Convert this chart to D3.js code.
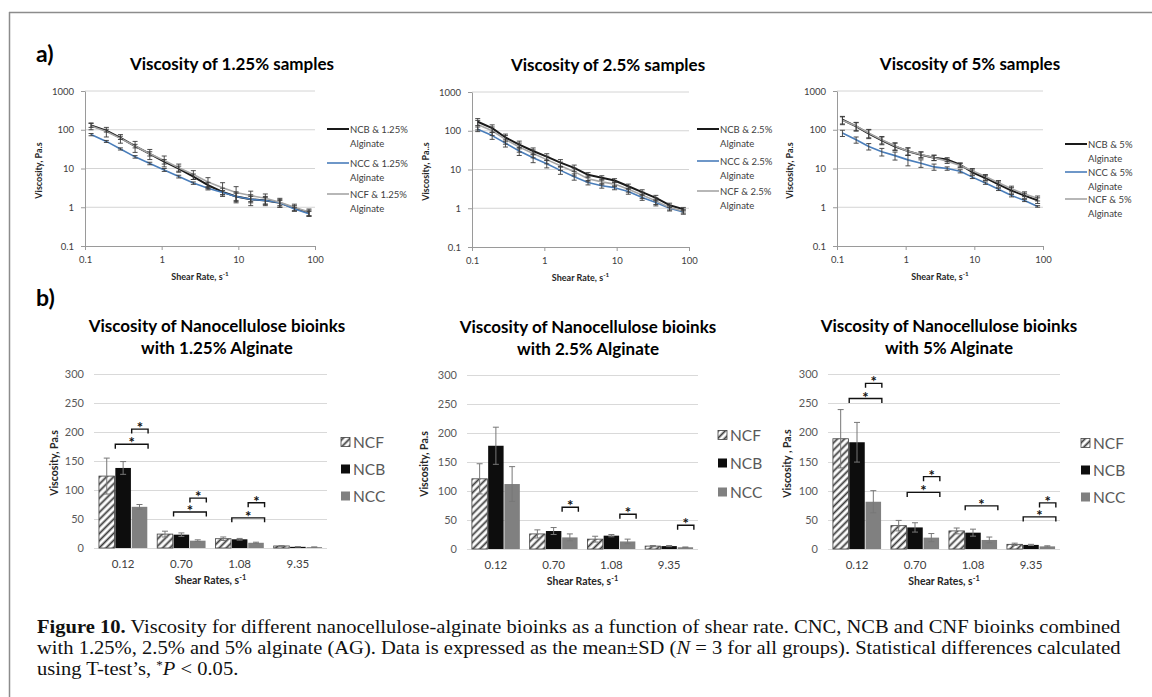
<!DOCTYPE html>
<html>
<head>
<meta charset="utf-8">
<script src="https://cdn.jsdelivr.net/npm/d3@7"></script>
<style>
body { margin: 0; background: #fff; }
svg { display: block; }
text { font-family: Lato, "Open Sans", sans-serif; }
.ttl { font-weight: 700; fill: #000; }
.axlab { font-weight: 700; fill: #262626; }
.cap { font-family: "Liberation Serif", "DejaVu Serif", serif; font-size: 19px; fill: #111; }
</style>
</head>
<body>
<svg id="fig" width="1152" height="697"></svg>
<script>
// ---- data: line charts (a) ----
const shearRates = [0.12, 0.19, 0.29, 0.45, 0.70, 1.08, 1.67, 2.59, 4.02, 6.23, 9.35, 14.5, 22.5, 34.8, 53.9, 83.5]

const ncb125 = [130, 95, 62, 38, 24, 15, 10, 6.2, 3.7, 2.5, 1.9, 1.6, 1.5, 1.3, 0.95, 0.72]
const ncc125 = [75, 50, 32, 20, 13.5, 9.2, 6.2, 4.2, 3.1, 2.4, 1.9, 1.6, 1.5, 1.3, 0.9, 0.68]
const ncf125 = [125, 90, 60, 38, 24, 16, 10.5, 7, 4.5, 3.2, 2.4, 2.0, 1.7, 1.35, 1.0, 0.75]
const ncb125Err = [15, 8, 6, 4, 3, 2, 1.5, 1, 0.7, 0.6, 0.6, 0.5, 0.4, 0.3, 0.15, 0.12]
const ncc125Err = [5, 3, 2, 1.5, 1, 0.8, 0.5, 0.3, 0.3, 0.3, 0.4, 0.3, 0.3, 0.2, 0.1, 0.1]
const ncf125Err = [25, 25, 15, 12, 7, 5, 2.5, 1.8, 1.3, 1.1, 1.0, 0.6, 0.5, 0.35, 0.2, 0.15]

const ncb25 = [171, 117, 67, 44, 30, 21.5, 15, 11, 7.3, 6.1, 5.2, 3.7, 2.6, 1.85, 1.2, 0.95]
const ncc25 = [110, 75, 48, 30, 20, 14, 9.5, 6.5, 4.6, 3.8, 3.4, 2.7, 1.9, 1.4, 1.0, 0.8]
const ncf25 = [145, 100, 60, 38, 26, 18, 12.5, 8.8, 5.8, 4.8, 4.2, 3.1, 2.2, 1.55, 1.05, 0.85]
const ncb25Err = [35, 25, 15, 10, 6, 4, 3, 2, 1, 0.8, 0.6, 0.5, 0.4, 0.3, 0.15, 0.1]
const ncc25Err = [15, 15, 10, 7, 5, 3, 2, 1.2, 0.6, 0.5, 0.4, 0.4, 0.3, 0.25, 0.15, 0.1]
const ncf25Err = [40, 25, 15, 10, 6, 4, 3, 2, 1, 0.8, 0.6, 0.5, 0.4, 0.3, 0.15, 0.1]

const ncb5 = [181, 122, 79, 53, 37, 28, 22.5, 19, 17, 12.5, 8, 5.7, 3.9, 2.7, 2.0, 1.5]
const ncc5 = [82, 55, 37, 27, 21.5, 16.7, 13.7, 11, 10, 8.5, 6, 4.2, 2.9, 2.0, 1.5, 1.05]
const ncf5 = [175, 125, 82, 55, 38, 28, 23, 19, 15.5, 12, 8.8, 6.2, 4.3, 3.0, 2.2, 1.7]
const ncb5Err = [40, 30, 20, 12, 8, 6, 4, 3, 2, 1.5, 1.2, 0.8, 0.6, 0.5, 0.3, 0.25]
const ncc5Err = [15, 10, 7, 6, 5, 5, 3, 2, 1, 0.8, 0.5, 0.3, 0.2, 0.15, 0.1, 0.05]
const ncf5Err = [40, 30, 20, 12, 8, 6, 4, 3, 2, 1.5, 1.2, 0.8, 0.6, 0.5, 0.3, 0.25]

const yTicksLog = [0.1, 1, 10, 100, 1000]
const xTicksLog = [0.1, 1, 10, 100]

// ---- data: bar charts (b) ----
const barRates = ['0.12', '0.70', '1.08', '9.35']
const barGroups = ['NCF', 'NCB', 'NCC']
const barTicks = [0, 50, 100, 150, 200, 250, 300]

const ncfBar125 = [124, 24, 16, 3.5]
const ncbBar125 = [138, 23, 15, 2]
const nccBar125 = [71, 12.6, 9, 1.5]
const ncfBar125Err = [31, 5, 3, 0.5]
const ncbBar125Err = [11, 3, 1.5, 0.3]
const nccBar125Err = [4, 1.5, 1, 0.3]

const ncfBar25 = [121, 26, 17, 5]
const ncbBar25 = [178, 31, 23, 5]
const nccBar25 = [112, 20, 13, 3]
const ncfBar25Err = [26, 7, 5, 1]
const ncbBar25Err = [32, 6, 2, 1]
const nccBar25Err = [30, 6, 4, 0.5]

const ncfBar5 = [189, 40, 31, 8]
const ncbBar5 = [183, 37, 28, 7]
const nccBar5 = [81, 19.5, 15.5, 4.5]
const ncfBar5Err = [50, 9, 5, 2]
const ncbBar5Err = [34, 8, 6, 1]
const nccBar5Err = [19, 7, 5, 1]

const sig125 = [
	{ rate: '0.12', from: 'NCF', to: 'NCC', v: 179 },
	{ rate: '0.12', from: 'NCB', to: 'NCC', v: 205 },
	{ rate: '0.70', from: 'NCF', to: 'NCC', v: 62 },
	{ rate: '0.70', from: 'NCB', to: 'NCC', v: 86 },
	{ rate: '1.08', from: 'NCF', to: 'NCC', v: 52 },
	{ rate: '1.08', from: 'NCB', to: 'NCC', v: 78 },
]
const sig25 = [
	{ rate: '0.70', from: 'NCB', to: 'NCC', v: 72 },
	{ rate: '1.08', from: 'NCB', to: 'NCC', v: 60 },
	{ rate: '9.35', from: 'NCB', to: 'NCC', v: 41 },
]
const sig5 = [
	{ rate: '0.12', from: 'NCF', to: 'NCC', v: 258 },
	{ rate: '0.12', from: 'NCB', to: 'NCC', v: 284 },
	{ rate: '0.70', from: 'NCF', to: 'NCC', v: 97 },
	{ rate: '0.70', from: 'NCB', to: 'NCC', v: 124 },
	{ rate: '1.08', from: 'NCF', to: 'NCC', v: 74 },
	{ rate: '9.35', from: 'NCF', to: 'NCC', v: 55 },
	{ rate: '9.35', from: 'NCB', to: 'NCC', v: 79 },
]

const lineColor = { NCB: '#1a1a1a', NCC: '#4a7ebb', NCF: '#a6a6a6' }
const lineWidth = { NCB: 2, NCC: 1.6, NCF: 1.6 }
const barFill = { NCF: 'url(#hatch)', NCB: '#0d0d0d', NCC: '#808080' }

const svg = d3.select('#fig')

// hatch pattern for NCF bars
const defs = svg.append('defs')
const pat = defs.append('pattern')
	.attr('id', 'hatch')
	.attr('patternUnits', 'userSpaceOnUse')
	.attr('width', 5).attr('height', 5)
	.attr('patternTransform', 'rotate(45)')
pat.append('rect').attr('width', 5).attr('height', 5).attr('fill', '#fff')
pat.append('line').attr('x1', 2.5).attr('x2', 2.5).attr('y1', 0).attr('y2', 5)
	.attr('stroke', '#3a3a3a').attr('stroke-width', 1.8)

// frame
svg.append('line').attr('x1', 9).attr('x2', 1152).attr('y1', 12.5).attr('y2', 12.5).attr('stroke', '#8c8c8c').attr('stroke-width', 1.5)
svg.append('line').attr('x1', 9.5).attr('x2', 9.5).attr('y1', 12).attr('y2', 697).attr('stroke', '#8c8c8c').attr('stroke-width', 1.5)

svg.append('text').attr('x', 36).attr('y', 62).attr('class', 'ttl').style('font-size', '23px').text('a)')
svg.append('text').attr('x', 36).attr('y', 306).attr('class', 'ttl').style('font-size', '23px').text('b)')

function styleAxis(sel, fs) {
	sel.select('.domain').attr('stroke', '#9a9a9a')
	sel.selectAll('.tick line').attr('stroke', '#9a9a9a')
	sel.selectAll('.tick text').attr('fill', '#404040').style('font-size', fs).style('font-family', 'Lato, sans-serif')
}

function axisLabel(g, x, y, txt, sup, fs, rotate) {
	const t = g.append('text')
		.attr('class', 'axlab')
		.attr('text-anchor', 'middle')
		.style('font-size', fs)
		.attr('transform', rotate ? `translate(${x},${y}) rotate(-90)` : `translate(${x},${y})`)
	t.append('tspan').text(txt)
	if (sup) t.append('tspan').attr('dy', -4).style('font-size', '70%').text(sup)
}

function linePanel(p) {
	const g = svg.append('g')
	const x = d3.scaleLog().domain([0.1, 100]).range([p.x0, p.x1])
	const y = d3.scaleLog().domain([0.1, 1000]).range([p.y1, p.y0])

	g.append('text').attr('class', 'ttl').attr('x', p.tx).attr('y', p.y0 - 21)
		.attr('text-anchor', 'middle').style('font-size', '17px').text(p.title)

	g.selectAll('.grid').data(yTicksLog.slice(1)).join('line')
		.attr('x1', p.x0).attr('x2', p.x1)
		.attr('y1', d => y(d)).attr('y2', d => y(d))
		.attr('stroke', '#d4d4d4')

	const ya = g.append('g').attr('transform', `translate(${p.x0},0)`)
		.call(d3.axisLeft(y).tickValues(yTicksLog).tickFormat(d3.format('')).tickSize(4).tickPadding(7).tickSizeOuter(0))
	styleAxis(ya, '9.5px')
	const xa = g.append('g').attr('transform', `translate(0,${p.y1})`)
		.call(d3.axisBottom(x).tickValues(xTicksLog).tickFormat(d3.format('')).tickSize(4).tickPadding(6).tickSizeOuter(0))
	styleAxis(xa, '9.5px')

	axisLabel(g, p.ylx, (p.y0 + p.y1) / 2 + 2, p.ylab, null, '9px', true)
	axisLabel(g, (p.x0 + p.x1) / 2, p.y1 + 34, 'Shear Rate, s', '-1', '9px', false)

	const line = d3.line().x((d, i) => x(shearRates[i])).y(d => y(d))

	p.series.forEach(s => {
		g.append('path').datum(s.vals)
			.attr('fill', 'none')
			.attr('stroke', lineColor[s.name])
			.attr('stroke-width', lineWidth[s.name])
			.attr('stroke-linejoin', 'round')
			.attr('d', line)
	})
	p.series.forEach(s => {
		const eb = g.append('g').attr('stroke', '#3a3a3a').attr('stroke-width', 0.9)
		s.vals.forEach((v, i) => {
			const cx = x(shearRates[i])
			const yt = y(v + s.err[i])
			const yb = y(Math.max(v - s.err[i], 0.11))
			eb.append('line').attr('x1', cx).attr('x2', cx).attr('y1', yt).attr('y2', yb)
			eb.append('line').attr('x1', cx - 2.5).attr('x2', cx + 2.5).attr('y1', yt).attr('y2', yt)
			eb.append('line').attr('x1', cx - 2.5).attr('x2', cx + 2.5).attr('y1', yb).attr('y2', yb)
		})
	})

	// legend
	p.series.forEach((s, i) => {
		const ly = p.ly[i]
		g.append('line').attr('x1', p.lx).attr('x2', p.lx + 22).attr('y1', ly).attr('y2', ly)
			.attr('stroke', lineColor[s.name]).attr('stroke-width', lineWidth[s.name])
		const t = g.append('text').attr('x', p.lx + 23).attr('y', ly + 3.5)
			.style('font-size', '9.5px').attr('fill', '#404040')
		t.append('tspan').text(`${s.name} & ${p.pct}`)
		t.append('tspan').attr('x', p.lx + 23).attr('dy', 14.5).text('Alginate')
	})
}

function barPanel(p) {
	const g = svg.append('g')
	const x = d3.scaleBand().domain(barRates).range([p.x0, p.x1]).paddingInner(0.17).paddingOuter(0.085)
	const xs = d3.scaleBand().domain(barGroups).range([0, x.bandwidth()]).paddingInner(0.05)
	const y = d3.scaleLinear().domain([0, 300]).range([p.y1, p.y0])

	const tt = g.append('text').attr('class', 'ttl').attr('text-anchor', 'middle').style('font-size', '17px')
	tt.append('tspan').attr('x', p.tx).attr('y', p.y0 - 42).text('Viscosity of Nanocellulose bioinks')
	tt.append('tspan').attr('x', p.tx).attr('y', p.y0 - 20).text(p.title2)

	g.selectAll('.grid').data(barTicks).join('line')
		.attr('x1', p.x0).attr('x2', p.x1)
		.attr('y1', d => Math.round(y(d)) + 0.5).attr('y2', d => Math.round(y(d)) + 0.5)
		.attr('stroke', '#d9d9d9')

	g.selectAll('.ytick').data(barTicks).join('text')
		.attr('x', p.x0 - 10).attr('y', d => y(d) + 4)
		.attr('text-anchor', 'end').attr('fill', '#595959').style('font-size', '11px')
		.text(d => d)

	g.selectAll('.xtick').data(barRates).join('text')
		.attr('x', d => x(d) + x.bandwidth() / 2).attr('y', p.y1 + 20)
		.attr('text-anchor', 'middle').attr('fill', '#404040').style('font-size', '11.5px')
		.text(d => d)

	axisLabel(g, p.ylx, (p.y0 + p.y1) / 2 + 2, p.ylab, null, '10.5px', true)
	axisLabel(g, (p.x0 + p.x1) / 2, p.y1 + 36, 'Shear Rates, s', '-1', '10.5px', false)

	barGroups.forEach((k, gi) => {
		const vals = p.vals[gi]
		const errs = p.errs[gi]
		g.selectAll(null).data(barRates).join('rect')
			.attr('x', d => x(d) + xs(k))
			.attr('y', (d, i) => y(vals[i]))
			.attr('width', xs.bandwidth())
			.attr('height', (d, i) => y(0) - y(vals[i]))
			.attr('fill', barFill[k])
			.attr('stroke', k === 'NCF' ? '#404040' : 'none')
			.attr('stroke-width', 0.8)
		const eb = g.append('g').attr('stroke', '#777').attr('stroke-width', 1)
		barRates.forEach((r, i) => {
			const cx = x(r) + xs(k) + xs.bandwidth() / 2
			const yt = y(vals[i] + errs[i])
			const yb = y(Math.max(vals[i] - errs[i], 0))
			eb.append('line').attr('x1', cx).attr('x2', cx).attr('y1', yt).attr('y2', yb)
			eb.append('line').attr('x1', cx - 3).attr('x2', cx + 3).attr('y1', yt).attr('y2', yt)
			eb.append('line').attr('x1', cx - 3).attr('x2', cx + 3).attr('y1', yb).attr('y2', yb)
		})
	})

	// significance brackets
	const shift = xs.bandwidth() * 0.55
	p.sig.forEach(s => {
		const xa = x(s.rate) + xs(s.from) + xs.bandwidth() / 2 + shift
		const xb = x(s.rate) + xs(s.to) + xs.bandwidth() / 2 + shift
		const yy = y(s.v)
		g.append('path')
			.attr('d', `M${xa},${yy + 4.5}V${yy}H${xb}V${yy + 4.5}`)
			.attr('fill', 'none').attr('stroke', '#111').attr('stroke-width', 1.4)
		g.append('text').attr('x', (xa + xb) / 2).attr('y', yy + 4)
			.attr('text-anchor', 'middle').style('font-size', '15px').style('font-weight', 700)
			.attr('fill', '#111').text('*')
	})

	// legend
	barGroups.forEach((k, i) => {
		const ly = p.ly[i]
		g.append('rect').attr('x', p.lx).attr('y', ly - 4.5).attr('width', 9).attr('height', 9)
			.attr('fill', barFill[k]).attr('stroke', k === 'NCF' ? '#404040' : 'none').attr('stroke-width', 0.8)
		g.append('text').attr('x', p.lx + 12).attr('y', ly + 5.5)
			.attr('fill', '#595959').style('font-size', '15.5px').text(k)
	})
}

linePanel({
	x0: 85, x1: 315, y0: 91, y1: 246, tx: 232, ylx: 42, lx: 327, ly: [129, 163, 194],
	title: 'Viscosity of 1.25% samples', ylab: 'Viscosity, Pa.s', pct: '1.25%',
	series: [
		{ name: 'NCB', vals: ncb125, err: ncb125Err },
		{ name: 'NCC', vals: ncc125, err: ncc125Err },
		{ name: 'NCF', vals: ncf125, err: ncf125Err },
	],
})
linePanel({
	x0: 472, x1: 689, y0: 92, y1: 247, tx: 608, ylx: 429, lx: 697, ly: [129, 161, 191],
	title: 'Viscosity of 2.5% samples', ylab: 'Viscosity, Pa..s', pct: '2.5%',
	series: [
		{ name: 'NCB', vals: ncb25, err: ncb25Err },
		{ name: 'NCC', vals: ncc25, err: ncc25Err },
		{ name: 'NCF', vals: ncf25, err: ncf25Err },
	],
})
linePanel({
	x0: 837, x1: 1043, y0: 91, y1: 246, tx: 970, ylx: 793, lx: 1065, ly: [144, 172, 199],
	title: 'Viscosity of 5% samples', ylab: 'Viscosity, Pa.s', pct: '5%',
	series: [
		{ name: 'NCB', vals: ncb5, err: ncb5Err },
		{ name: 'NCC', vals: ncc5, err: ncc5Err },
		{ name: 'NCF', vals: ncf5, err: ncf5Err },
	],
})

barPanel({
	x0: 94, x1: 327, y0: 374, y1: 548, tx: 217, ylx: 58, lx: 341, ly: [442, 469, 496],
	title2: 'with 1.25% Alginate', ylab: 'Viscosity, Pa.s', sig: sig125,
	vals: [ncfBar125, ncbBar125, nccBar125], errs: [ncfBar125Err, ncbBar125Err, nccBar125Err],
})
barPanel({
	x0: 467, x1: 698, y0: 375, y1: 549, tx: 588, ylx: 428, lx: 718, ly: [435, 463, 492],
	title2: 'with 2.5% Alginate', ylab: 'Viscosity, Pa.s', sig: sig25,
	vals: [ncfBar25, ncbBar25, nccBar25], errs: [ncfBar25Err, ncbBar25Err, nccBar25Err],
})
barPanel({
	x0: 828, x1: 1060, y0: 374, y1: 549, tx: 949, ylx: 791, lx: 1081, ly: [443, 470, 497],
	title2: 'with 5% Alginate', ylab: 'Viscosity , Pa.s', sig: sig5,
	vals: [ncfBar5, ncbBar5, nccBar5], errs: [ncfBar5Err, ncbBar5Err, nccBar5Err],
})

// caption
const cap = svg.append('g')
const l1 = cap.append('text').attr('class', 'cap').attr('x', 0).attr('y', 0)
l1.append('tspan').style('font-weight', 700).text('Figure 10.')
l1.append('tspan').text(' Viscosity for different nanocellulose-alginate bioinks as a function of shear rate. CNC, NCB and CNF bioinks combined')
const l2 = cap.append('text').attr('class', 'cap').attr('x', 0).attr('y', 0)
l2.append('tspan').text('with 1.25%, 2.5% and 5% alginate (AG). Data is expressed as the mean\u00b1SD (')
l2.append('tspan').style('font-style', 'italic').text('N')
l2.append('tspan').text(' = 3 for all groups). Statistical differences calculated')
const l3 = cap.append('text').attr('class', 'cap').attr('x', 0).attr('y', 0)
l3.append('tspan').text('using T-test\u2019s, ')
l3.append('tspan').attr('dy', -6).style('font-size', '12px').text('*')
l3.append('tspan').attr('dy', 6).style('font-style', 'italic').text('P')
l3.append('tspan').text(' < 0.05.')

const r = (1121 - 37) / l1.node().getComputedTextLength()
l1.attr('transform', `translate(37,633) scale(${r},1)`)
l2.attr('transform', `translate(37,654) scale(${r},1)`)
l3.attr('transform', `translate(37,675) scale(${r},1)`)
</script>
</body>
</html>
